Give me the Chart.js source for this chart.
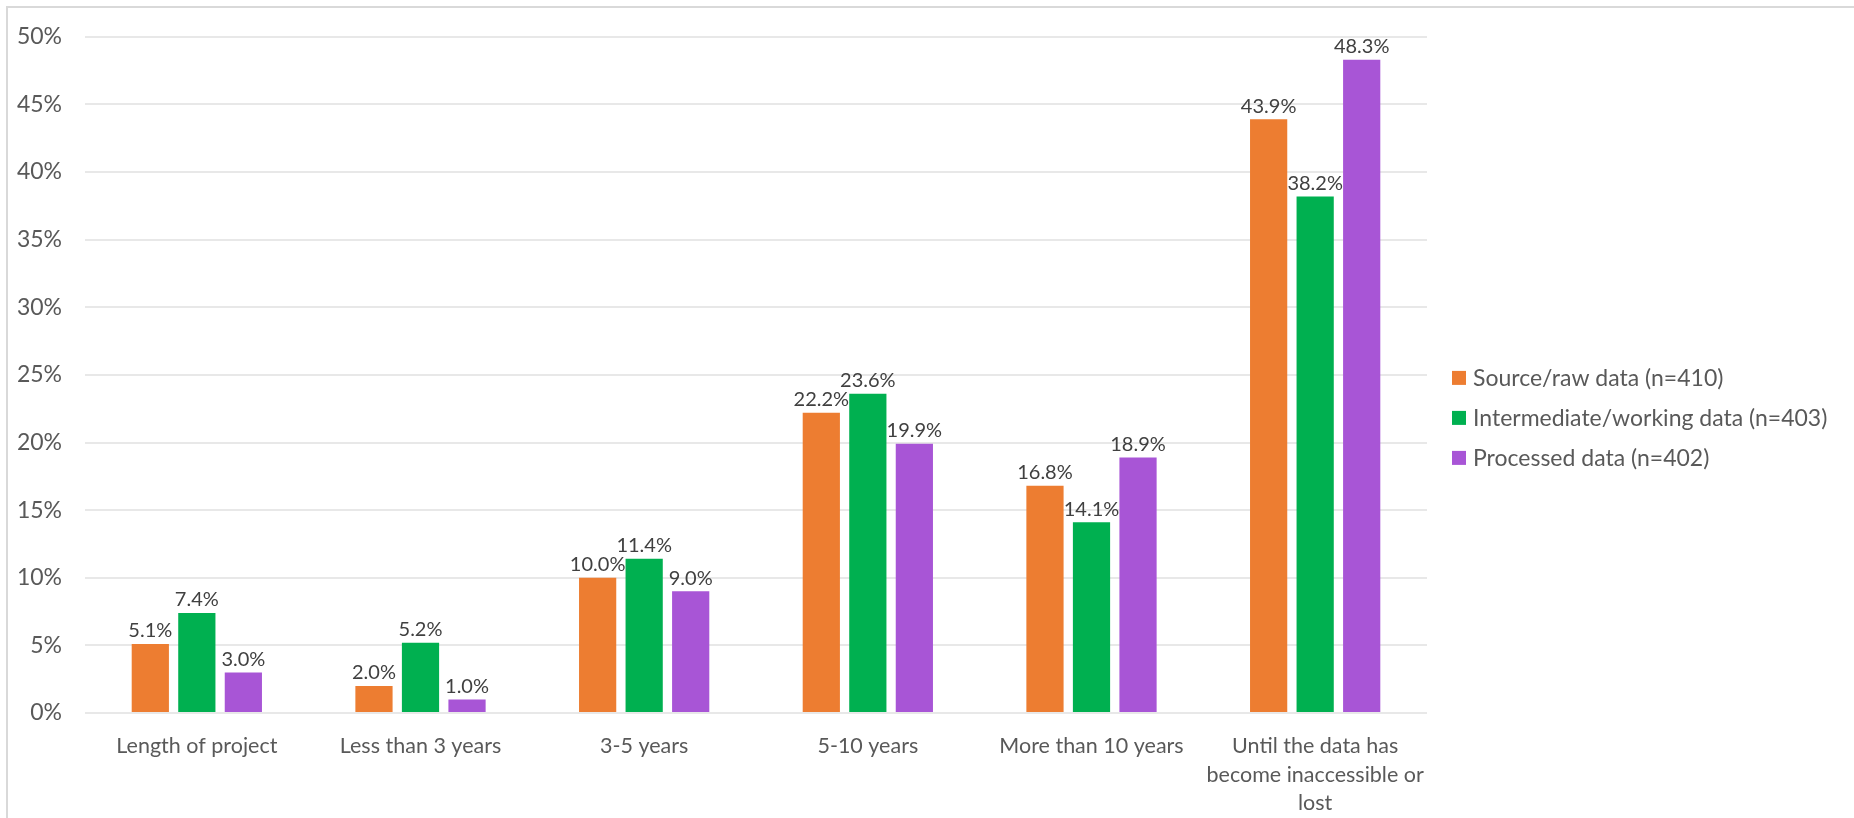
<!DOCTYPE html>
<html>
<head>
<meta charset="utf-8">
<title>Data retention</title>
<script src="https://cdn.jsdelivr.net/npm/chart.js@4.4.0/dist/chart.umd.min.js"></script>
<style>
    html, body { margin: 0; padding: 0; background: #fff; }
    #wrap { position: relative; width: 1854px; height: 818px; }
</style>
</head>
<body>
<div id="wrap"><canvas id="chart" width="1854" height="818"></canvas></div>
<script>
// Data
const categories = [
    'Length of project',
    'Less than 3 years',
    '3-5 years',
    '5-10 years',
    'More than 10 years',
    ['Until the data has', 'become inaccessible or', 'lost']
];
const sourceRaw = [5.1, 2.0, 10.0, 22.2, 16.8, 43.9];
const intermediate = [7.4, 5.2, 11.4, 23.6, 14.1, 38.2];
const processed = [3.0, 1.0, 9.0, 19.9, 18.9, 48.3];
const seriesNames = ['Source/raw data (n=410)', 'Intermediate/working data (n=403)', 'Processed data (n=402)'];
const seriesColors = ['#ED7D31', '#00B050', '#A855D6'];
const yMin = 0;
const yMax = 50;
const yStep = 5;

const FONT = 'Lato';
const TEXT = '#595959';

// Thin frame round the picture (only top and left show)
const frame = {
    id: 'frame',
    beforeDraw(chart) {
        const ctx = chart.ctx;
        ctx.save();
        ctx.strokeStyle = '#d9d9d9';
        ctx.lineWidth = 2;
        ctx.strokeRect(7, 7, chart.width + 20, chart.height + 20);
        ctx.restore();
    }
};

// Value labels above each bar
const valueLabels = {
    id: 'valueLabels',
    afterDatasetsDraw(chart) {
        const ctx = chart.ctx;
        ctx.save();
        ctx.font = `20px ${FONT}`;
        ctx.fillStyle = '#404040';
        ctx.textAlign = 'center';
        ctx.textBaseline = 'bottom';
        chart.data.datasets.forEach((ds, i) => {
            chart.getDatasetMeta(i).data.forEach((bar, j) => {
                ctx.fillText(ds.data[j].toFixed(1) + '%', bar.x, bar.y - 3);
            });
        });
        ctx.restore();
    }
};

// Legend to the right of the plot, Excel style (small square, tight gap)
const sideLegend = {
    id: 'sideLegend',
    afterDraw(chart) {
        const ctx = chart.ctx;
        const area = chart.chartArea;
        const boxX = area.right + 25;
        const rowGap = 40;
        const midY = (area.top + area.bottom) / 2 + 43;
        const firstY = midY - rowGap * (chart.data.datasets.length - 1) / 2;
        ctx.save();
        ctx.font = `23px ${FONT}`;
        ctx.textBaseline = 'middle';
        ctx.textAlign = 'left';
        chart.data.datasets.forEach((ds, i) => {
            const y = firstY + i * rowGap;
            ctx.fillStyle = ds.backgroundColor;
            ctx.fillRect(boxX, y - 7, 14, 14);
            ctx.fillStyle = TEXT;
            ctx.fillText(ds.label, boxX + 21, y + 1);
        });
        ctx.restore();
    }
};

const ctx = document.getElementById('chart');
new Chart(ctx, {
    type: 'bar',
    data: {
        labels: categories,
        datasets: [sourceRaw, intermediate, processed].map((values, i) => ({
            label: seriesNames[i],
            data: values,
            backgroundColor: seriesColors[i],
            categoryPercentage: 0.624,
            barPercentage: 0.8
        }))
    },
    options: {
        responsive: false,
        animation: false,
        devicePixelRatio: 1,
        layout: {
            padding: { top: 31, right: 427, bottom: 0, left: 0 }
        },
        scales: {
            x: {
                grid: { display: false },
                border: { display: false },
                ticks: {
                    color: TEXT,
                    font: { family: FONT, size: 21.5, lineHeight: 1.33 },
                    padding: 11,
                    maxRotation: 0,
                    autoSkip: false
                },
                afterFit(scale) { scale.height = 105; }
            },
            y: {
                min: yMin,
                max: yMax,
                border: { display: false },
                grid: { color: '#e8e8e8', lineWidth: 2, drawTicks: false },
                ticks: {
                    stepSize: yStep,
                    color: TEXT,
                    font: { family: FONT, size: 23 },
                    padding: 23,
                    callback: v => v + '%'
                },
                afterFit(scale) { scale.width = 85; }
            }
        },
        plugins: {
            legend: { display: false },
            tooltip: { enabled: false }
        }
    },
    plugins: [frame, valueLabels, sideLegend]
});
</script>
</body>
</html>
